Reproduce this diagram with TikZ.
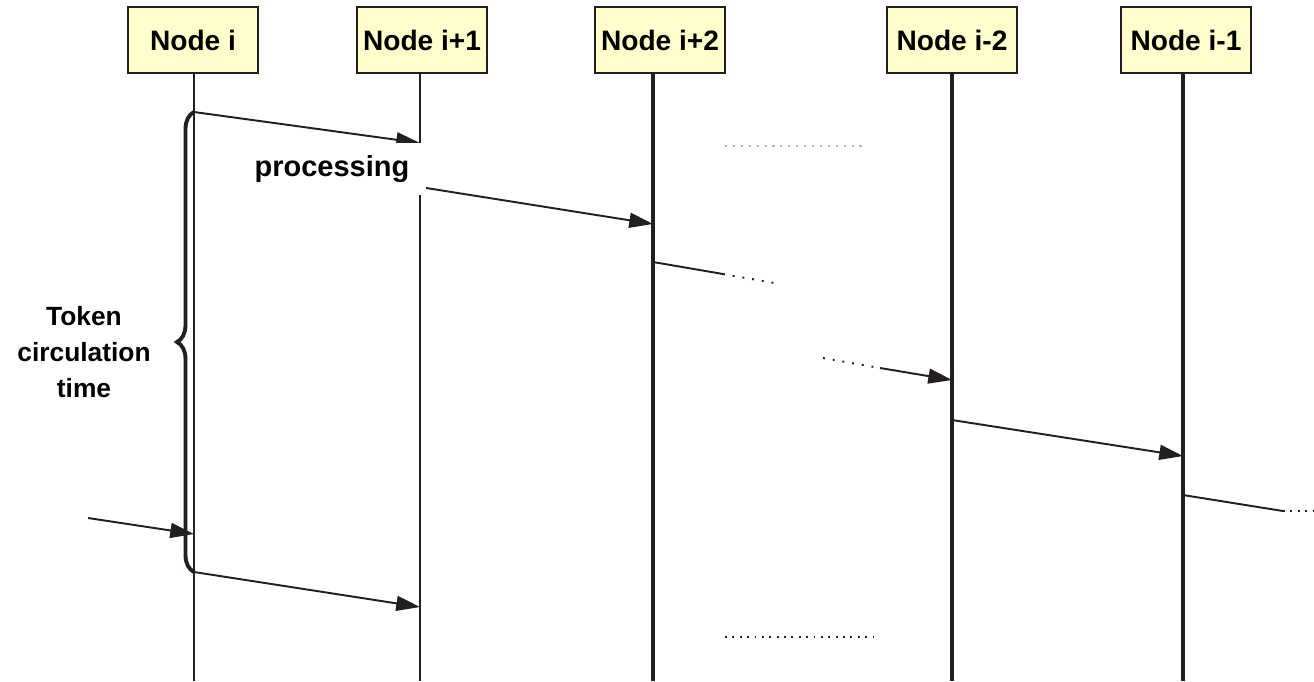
\documentclass[tikz,border=0pt]{standalone}
\usepackage{fontspec}
\setmainfont{Liberation Sans}
\usetikzlibrary{arrows.meta}
\usetikzlibrary{decorations.pathreplacing}
\definecolor{boxfill}{HTML}{FFFFCC}
\definecolor{ink}{HTML}{231F20}
\tikzset{
    hnode/.style = {align=center, inner sep=0pt, text centered},
    head/.style = {hnode, rectangle, draw=ink, fill=boxfill, line width=1.1pt, minimum width=2.6cm, minimum height=1.32cm, font=\fontsize{16}{19}\selectfont\bfseries},
    proc/.style = {hnode, rectangle, fill=white, minimum width=3.76cm, minimum height=1.04cm, font=\fontsize{16.5}{19}\selectfont\bfseries},
    label_txt/.style = {hnode, font=\fontsize{15}{20.5}\selectfont\bfseries},
    life_thin/.style = {draw=ink, line width=1pt},
    life_thick/.style = {draw=ink, line width=1.9pt},
    msg/.style = {draw=ink, line width=1.1pt, -{Triangle[length=13.5pt,width=8.5pt]}},
    msg_end/.style = {draw=ink, line width=1.1pt},
    gap_dots/.style = {draw=ink, line width=1.1pt, dash pattern=on 1.1pt off 4.5pt},
    far_dots/.style = {draw=ink, line width=1.1pt, dash pattern=on 1.1pt off 3.1pt},
    faint_dots/.style = {draw=gray!55, line width=0.6pt, dash pattern=on 1.2pt off 3.3pt},
    cycle_brace/.style = {draw=ink, line width=2.2pt, decorate, decoration={brace, amplitude=0.34cm}}
}

\begin{document}
\begin{tikzpicture}[x=0.02cm, y=-0.02cm]
    \useasboundingbox (0,0) rectangle (1314,681);

    % heads
    \node [head] (n1) at (193,40) {Node i};
    \node [head] (n2) at (422,40) {Node i+1};
    \node [head] (n3) at (660,40) {Node i+2};
    \node [head] (n4) at (952,40) {Node i-2};
    \node [head] (n5) at (1186,40) {Node i-1};

    % lifelines
    \coordinate (b1) at (194,681);
    \coordinate (b2) at (420,681);
    \coordinate (b3) at (653,681);
    \coordinate (b4) at (952,681);
    \coordinate (b5) at (1183,681);
    \draw [life_thin] (n1.south -| b1) -- (b1);
    \draw [life_thin] (n2.south -| b2) -- (b2);
    \draw [life_thick] (n3.south -| b3) -- (b3);
    \draw [life_thick] (n4.south -| b4) -- (b4);
    \draw [life_thick] (n5.south -| b5) -- (b5);

    % token passing
    \coordinate (m1a) at (194,112);  \coordinate (m1b) at (420,143);
    \coordinate (m2a) at (420,187);  \coordinate (m2b) at (653,224);
    \coordinate (m3a) at (653,262);  \coordinate (m3b) at (723,274);
    \coordinate (m3c) at (780,284);
    \coordinate (m4a) at (823,358);  \coordinate (m4b) at (880,368);
    \coordinate (m4c) at (952,380);
    \coordinate (m5a) at (952,420);  \coordinate (m5b) at (1183,456);
    \coordinate (m6a) at (1183,495); \coordinate (m6b) at (1283,511);
    \coordinate (m6c) at (1314,511);
    \coordinate (m7a) at (88,518);   \coordinate (m7b) at (194,534);
    \coordinate (m8a) at (194,572);  \coordinate (m8b) at (420,607);

    \draw [msg] (m1a) -- (m1b);
    \draw [msg] (m2a) -- (m2b);
    \draw [msg_end] (m3a) -- (m3b);
    \draw [gap_dots] (m3b) -- (m3c);
    \draw [gap_dots] (m4a) -- (m4b);
    \draw [msg] (m4b) -- (m4c);
    \draw [msg] (m5a) -- (m5b);
    \draw [msg_end] (m6a) -- (m6b);
    \draw [far_dots] (m6b) -- (m6c);
    \draw [msg] (m7a) -- (m7b);
    \draw [msg] (m8a) -- (m8b);

    % skipped stations
    \coordinate (d1a) at (725,146); \coordinate (d1b) at (863,146);
    \coordinate (d2a) at (725,637); \coordinate (d2b) at (874,637);
    \draw [faint_dots] (d1a) -- (d1b);
    \draw [far_dots] (d2a) -- (d2b);

    \node [proc] (proc) at (332,169) {processing};

    % circulation time
    \draw [cycle_brace] (m8a) -- (m1a);
    \node [label_txt] (tct) at (84,352) {Token\\circulation\\time};
\end{tikzpicture}
\end{document}
